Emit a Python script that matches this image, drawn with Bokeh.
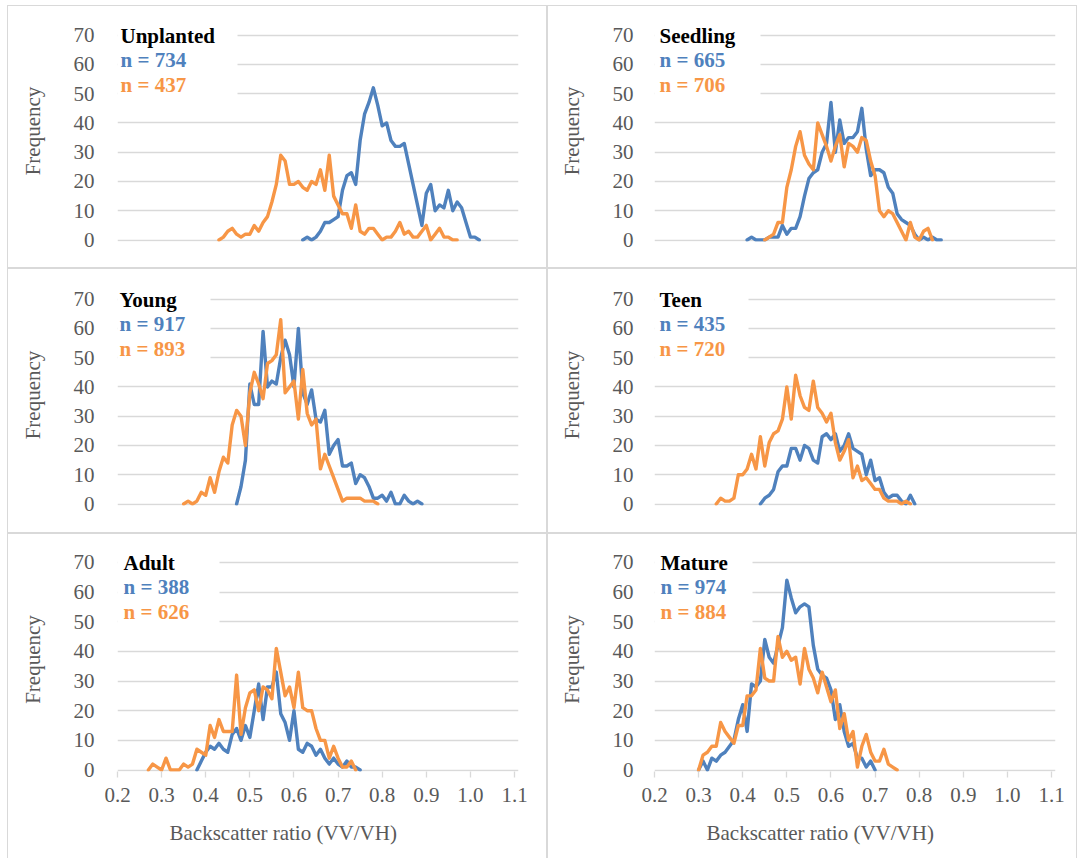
import numpy as np
from bokeh.plotting import figure
from bokeh.models import Range1d, FixedTicker, PrintfTickFormatter, Title
from bokeh.core.properties import value
from bokeh.layouts import column, row
from bokeh.embed import file_html
from bokeh.resources import INLINE

# ---------------------------------------------------------------- data
# Frequency of pixels per 0.01-wide bin of the VV/VH backscatter ratio.
panel_names = ["Unplanted", "Seedling", "Young", "Teen", "Adult", "Mature"]
n_blue = [734, 665, 917, 435, 388, 974]
n_orange = [437, 706, 893, 720, 626, 884]
blue_start = [0.62, 0.41, 0.47, 0.44, 0.38, 0.30]
orange_start = [0.43, 0.45, 0.35, 0.34, 0.27, 0.30]

unplanted_blue = [0, 1, 0, 1, 3, 6, 6, 7, 8, 17, 22, 23, 19, 34, 43, 47, 52, 46, 39, 40, 34,
                  32, 32, 33, 26, 19, 12, 5, 16, 19, 10, 12, 11, 17, 10, 13, 11, 6, 1, 1, 0]
unplanted_orange = [0, 1, 3, 4, 2, 1, 2, 2, 5, 3, 6, 8, 13, 19, 29, 27, 19, 19, 20, 18, 17, 20,
                    19, 24, 17, 29, 15, 12, 9, 9, 4, 12, 3, 2, 4, 4, 2, 0, 1, 1, 3, 6, 2, 3, 1,
                    1, 3, 5, 0, 2, 4, 1, 1, 0, 0]
seedling_blue = [0, 1, 0, 0, 0, 1, 1, 1, 5, 2, 4, 4, 8, 15, 21, 23, 24, 30, 33, 47, 30, 41, 33,
                 35, 35, 37, 45, 31, 22, 24, 24, 23, 18, 16, 9, 7, 6, 5, 2, 0, 1, 0, 1, 0, 0]
seedling_orange = [0, 1, 2, 6, 6, 18, 24, 32, 37, 29, 26, 24, 40, 36, 32, 27, 32, 36, 25, 33,
                   32, 30, 35, 34, 27, 22, 10, 8, 10, 9, 6, 3, 0, 6, 1, 0, 3, 4, 0]
young_blue = [0, 6, 15, 41, 34, 34, 59, 40, 42, 41, 50, 56, 51, 40, 60, 38, 34, 39, 29, 28, 32,
              17, 20, 22, 13, 13, 14, 7, 10, 9, 6, 2, 2, 3, 1, 4, 0, 0, 3, 1, 0, 1, 0]
young_orange = [0, 1, 0, 1, 4, 3, 9, 4, 11, 16, 14, 27, 32, 30, 20, 38, 45, 41, 36, 48, 49, 51,
                63, 38, 40, 42, 29, 46, 31, 27, 29, 12, 17, 13, 9, 5, 1, 2, 2, 2, 2, 1, 1, 1, 0]
teen_blue = [0, 2, 3, 5, 11, 13, 13, 19, 19, 15, 20, 19, 15, 14, 23, 24, 22, 24, 18, 20, 24, 19,
             18, 17, 10, 15, 8, 9, 4, 2, 3, 3, 1, 0, 3, 0]
teen_orange = [0, 2, 1, 1, 2, 10, 10, 12, 17, 12, 23, 13, 21, 24, 25, 29, 40, 29, 44, 37, 33, 32,
               42, 33, 31, 28, 31, 21, 15, 18, 22, 9, 13, 8, 9, 7, 5, 5, 2, 1, 1, 1, 0, 1, 0]
adult_blue = [0, 3, 6, 8, 7, 9, 7, 6, 12, 14, 10, 15, 11, 20, 29, 17, 28, 28, 33, 19, 16, 10, 20,
              7, 6, 9, 8, 5, 7, 4, 2, 4, 2, 1, 3, 1, 1, 0]
adult_orange = [0, 2, 1, 0, 4, 0, 0, 0, 2, 1, 2, 7, 6, 5, 15, 11, 17, 13, 13, 13, 32, 12, 21, 26,
                27, 20, 28, 27, 24, 41, 33, 25, 28, 21, 33, 21, 20, 20, 14, 10, 10, 4, 8, 4, 1,
                1, 3, 0]
mature_blue = [0, 3, 0, 4, 3, 5, 6, 8, 10, 17, 22, 13, 29, 28, 30, 44, 38, 36, 42, 48, 64, 58, 53,
               55, 56, 55, 42, 34, 32, 31, 27, 17, 22, 13, 8, 9, 4, 4, 1, 3, 0]
mature_orange = [0, 5, 6, 8, 8, 16, 13, 11, 9, 15, 15, 25, 25, 27, 41, 31, 30, 30, 45, 38, 40, 37,
                 38, 29, 41, 34, 31, 26, 33, 28, 23, 27, 14, 19, 10, 13, 1, 8, 12, 6, 3, 3, 7, 2,
                 1, 0]

blue_series = [unplanted_blue, seedling_blue, young_blue, teen_blue, adult_blue, mature_blue]
orange_series = [unplanted_orange, seedling_orange, young_orange, teen_orange, adult_orange,
                 mature_orange]

y_ticks = [0, 10, 20, 30, 40, 50, 60, 70]
x_ticks = [0.2, 0.3, 0.4, 0.5, 0.6, 0.7, 0.8, 0.9, 1.0, 1.1]
BIN = 0.01

# ---------------------------------------------------------------- style
BLUE = "#4F81BD"
ORANGE = "#F79646"
GRID = "#D9D9D9"
GREY_TEXT = "#595959"
FONT = "Liberation Serif"
FS = "21px"

# geometry of the 3 x 2 grid (pixels, relative to each panel)
ROW_H = [263, 265, 325]
ROW_Y70 = [29.5, 30.3, 29.3]     # where y = 70 sits
ROW_Y0 = [234.3, 236.0, 237.5]   # where y = 0 sits
COL_W = [540, 530]
COL_LEFT = [110, 107]
FRAME_W = 401
X_MIN, X_MAX = 0.2, 1.109
Y_MIN, Y_MAX = -0.5, 75.0
PX_PER_X = FRAME_W / (X_MAX - X_MIN)

text_dx = [3, 5, 2, 5, 6, 6]          # legend text inset from the plot's left edge
box_w = [120, 106, 93, 94, 102, 98]  # width of the white legend backdrop
tick_standoff = [17, 15]


def bins(start, counts):
    return np.round(start + BIN * np.arange(len(counts)), 2)


def make_panel(i):
    r, c = divmod(i, 2)
    w, h = COL_W[c], ROW_H[r]
    left = COL_LEFT[c]
    ppu = (ROW_Y0[r] - ROW_Y70[r]) / 70.0
    top = round(ROW_Y70[r] - (Y_MAX - 70) * ppu)
    fh = round(ROW_Y0[r] + (0 - Y_MIN) * ppu) - top
    bottom_row = r == 2
    p = figure(width=w, height=h,
               x_range=Range1d(X_MIN, X_MAX), y_range=Range1d(Y_MIN, Y_MAX),
               output_backend="svg", toolbar_location=None,
               x_axis_location="below" if bottom_row else None,
               min_border_left=left, min_border_right=w - left - FRAME_W,
               min_border_top=top, min_border_bottom=h - top - fh)
    p.outline_line_color = None
    p.border_fill_color = None
    p.background_fill_color = None
    if bottom_row:
        p.styles = {"box-shadow": f"inset 1px 1px 0 0 {GRID}, inset -1px 0 0 0 {GRID}"}
    else:
        p.styles = {"box-shadow": f"inset 0 0 0 1px {GRID}"}

    # no vertical gridlines anywhere
    for g in p.xgrid:
        g.visible = False
        g.grid_line_color = None

    ppu = fh / (Y_MAX - Y_MIN)

    # y axis
    ya = p.yaxis[0]
    ya.ticker = FixedTicker(ticks=y_ticks)
    ya.axis_line_color = None
    ya.major_tick_line_color = None
    ya.minor_tick_line_color = None
    ya.major_label_standoff = tick_standoff[c]
    ya.major_label_text_font = FONT
    ya.major_label_text_font_size = FS
    ya.major_label_text_color = GREY_TEXT
    ya.axis_label = "Frequency"
    ya.axis_label_text_font = FONT
    ya.axis_label_text_font_size = FS
    ya.axis_label_text_font_style = "normal"
    ya.axis_label_text_color = GREY_TEXT
    ya.axis_label_standoff = 26
    p.ygrid.ticker = FixedTicker(ticks=y_ticks)
    p.ygrid.grid_line_color = GRID
    p.ygrid.grid_line_width = 1.3

    if bottom_row:
        xa = p.xaxis[0]
        xa.ticker = FixedTicker(ticks=x_ticks)
        xa.formatter = PrintfTickFormatter(format="%.1f")
        xa.axis_line_color = None
        xa.major_tick_in = 0
        xa.major_tick_out = 6
        xa.major_tick_line_color = GRID
        xa.major_tick_line_width = 1.3
        xa.minor_tick_line_color = None
        xa.major_label_standoff = 10
        xa.major_label_text_font = FONT
        xa.major_label_text_font_size = FS
        xa.major_label_text_color = GREY_TEXT
        p.add_layout(Title(text="Backscatter ratio (VV/VH)", align="left", offset=52,
                           text_font=FONT, text_font_size=FS, text_font_style="normal",
                           text_color=GREY_TEXT, standoff=28), "below")

    # white backdrop behind the legend text (hides the upper gridlines there)
    p.quad(left=[X_MIN], right=[X_MIN + box_w[i] / PX_PER_X], bottom=[45], top=[Y_MAX],
           fill_color="white", line_color=None)

    # the two frequency curves
    p.line(bins(blue_start[i], blue_series[i]), blue_series[i], line_color=BLUE,
           line_width=3.4, line_join="round", line_cap="round")
    p.line(bins(orange_start[i], orange_series[i]), orange_series[i], line_color=ORANGE,
           line_width=3.4, line_join="round", line_cap="round")

    # legend text in the upper-left corner
    tx = X_MIN + text_dx[i] / PX_PER_X
    texts = [panel_names[i], f"n = {n_blue[i]}", f"n = {n_orange[i]}"]
    colors = ["black", BLUE, ORANGE]
    dys = [0.5, 25, 49.5]
    p.text(x=[tx] * 3, y=[70 - dy / ppu for dy in dys], text=texts, text_color=colors,
           text_font=value(FONT), text_font_size=value(FS), text_font_style="bold",
           text_align="left", text_baseline="alphabetic")
    return p


panels = [make_panel(i) for i in range(6)]
layout = column(row(panels[0], panels[1]), row(panels[2], panels[3]),
                row(panels[4], panels[5]), margin=(5, 0, 0, 7))

open("out.html", "w").write(file_html(layout, INLINE))
